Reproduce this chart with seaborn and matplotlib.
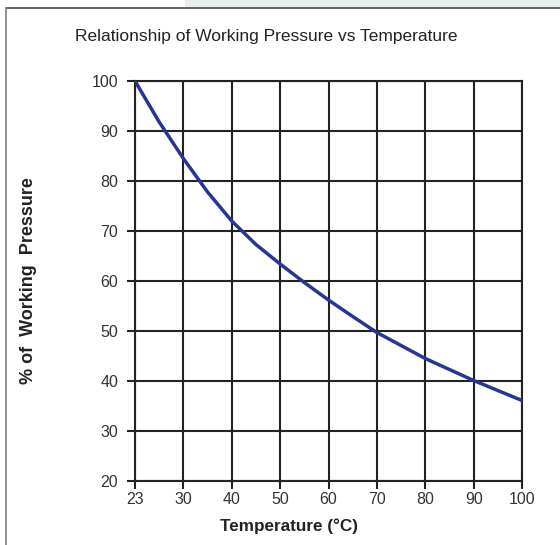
import matplotlib
matplotlib.use("Agg")
import matplotlib.pyplot as plt
import seaborn as sns
import pandas as pd
import numpy as np
from matplotlib.patches import Rectangle
from matplotlib.lines import Line2D

# axis tick temperatures (equally spaced categories on the chart)
temps = [23, 30, 40, 50, 60, 70, 80, 90, 100]
yticks = [20, 30, 40, 50, 60, 70, 80, 90, 100]

# curve
curve_temp = [23, 26.5, 30, 35, 40, 45, 50, 55, 60, 65, 70, 75, 80, 85, 90, 95, 100]
curve_pct = [100, 91.8, 84.5, 77.8, 72.0, 67.3, 63.4, 59.7, 56.2, 52.9, 49.7, 47.1,
             44.5, 42.3, 40.1, 38.1, 36.1]

# the chart's x scale is piecewise linear between the tick temperatures
tick_pos = np.arange(len(temps))
df = pd.DataFrame({"pos": np.interp(curve_temp, temps, tick_pos), "pressure": curve_pct})

sns.set_theme(style="white")
plt.rcParams['font.family'] = ['Liberation Sans', 'DejaVu Sans']

fig = plt.figure(figsize=(5.6, 5.45), dpi=100)
fig.patches.append(Rectangle((185/560, 1-7/545), 1, 7/545, transform=fig.transFigure,
                             facecolor="#e6efec", edgecolor="none", zorder=0))
fig.lines.append(Line2D([5.5/560, 1], [1-7.5/545, 1-7.5/545], transform=fig.transFigure,
                        color="#555555", lw=1.3))
fig.lines.append(Line2D([5.5/560, 5.5/560], [0, 1-7.5/545], transform=fig.transFigure,
                        color="#888888", lw=1.3))

ax = fig.add_axes([135/560, (545-481)/545, 387/560, 400/545])
sns.lineplot(data=df, x="pos", y="pressure", ax=ax, color="#283593", lw=2.5, zorder=5,
             sort=False)

ax.set_xlim(0, len(temps) - 1)
ax.set_ylim(20, 100)
ax.set_xticks(tick_pos)
ax.set_xticklabels([str(t) for t in temps])
ax.set_yticks(yticks)
ax.set_yticklabels([str(t) for t in yticks])
ax.grid(True, color="#222222", lw=1.5)
for s in ax.spines.values():
    s.set_color("#222222")
    s.set_linewidth(1.5)
ax.tick_params(axis="both", which="major", length=6, width=1.5, color="#222222",
               labelsize=11.5, labelcolor="#333333", direction="out", bottom=True, left=True)
ax.tick_params(axis="x", pad=2)
ax.tick_params(axis="y", pad=6)

ax.set_xlabel("Temperature (°C)", fontsize=12.3, fontweight="bold", color="#222222")
ax.set_ylabel("% of  Working  Pressure", fontsize=13, fontweight="bold", color="#222222")
ax.xaxis.set_label_coords((289-135)/387, (481-518)/400)
ax.yaxis.set_label_coords((37-135)/387, (481-281)/400)

fig.text(266.5/560, 1-37/545, "Relationship of Working Pressure vs Temperature",
         ha="center", va="center", fontsize=12.5, color="#222222")

fig.savefig("out.png", dpi=100)
